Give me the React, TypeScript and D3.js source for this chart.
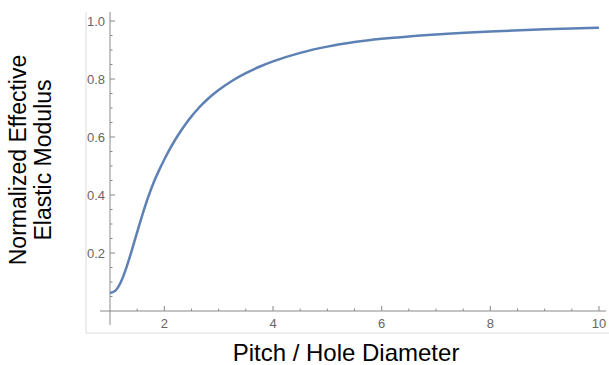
import React, { useRef, useEffect } from "react";
import * as d3 from "d3";

// values
const pitchRatio = [1.0, 1.1, 1.2, 1.3, 1.4, 1.5, 1.6, 1.7, 1.8, 1.9, 2.0, 2.1, 2.2, 2.3, 2.4, 2.5, 2.6, 2.7, 2.8, 2.9, 3.0, 3.25, 3.5, 3.75, 4.0, 4.5, 5.0, 5.5, 6.0, 6.5, 7.0, 8.0, 9.0, 10.0];
const modulus = [0.062, 0.0705, 0.1, 0.149, 0.2085, 0.272, 0.334, 0.3915, 0.4415, 0.484, 0.5225, 0.558, 0.5905, 0.62, 0.6468, 0.671, 0.693, 0.713, 0.7311, 0.7475, 0.7622, 0.7941, 0.8203, 0.8422, 0.8607, 0.8902, 0.9117, 0.9272, 0.9385, 0.9469, 0.9535, 0.9637, 0.9712, 0.977];
const xTicks = [2, 4, 6, 8, 10];
const yTicks = [0.2, 0.4, 0.6, 0.8, 1.0];

const width = 609;
const height = 365;

const App = () => {
    const svgRef = useRef(null);

    useEffect(() => {
        const svg = d3.select(svgRef.current);
        svg.selectAll("*").remove();

        const xScale = d3.scaleLinear().domain([1, 10]).range([110, 599]);
        const yScale = d3.scaleLinear().domain([0, 1]).range([311, 21]);

        // light frame of the image
        svg.append("path")
            .attr("d", `M86,12 L86,333 L609,333`)
            .attr("fill", "none")
            .attr("stroke", "#dcdcdc")
            .attr("stroke-width", 1);

        const axisColor = "#8a8a8a";
        const labelColor = "#666";

        // x axis line
        svg.append("line")
            .attr("x1", xScale(1) - 10).attr("x2", 606)
            .attr("y1", yScale(0)).attr("y2", yScale(0))
            .attr("stroke", axisColor);
        // y axis line
        svg.append("line")
            .attr("x1", xScale(1)).attr("x2", xScale(1))
            .attr("y1", 12).attr("y2", yScale(0) + 14)
            .attr("stroke", axisColor);

        // x ticks
        const xMinor = d3.range(1.5, 10.01, 0.5).filter(t => !xTicks.includes(t));
        svg.append("g").selectAll("line")
            .data(xMinor)
            .join("line")
            .attr("x1", d => xScale(d)).attr("x2", d => xScale(d))
            .attr("y1", yScale(0)).attr("y2", yScale(0) - 2.5)
            .attr("stroke", axisColor);
        svg.append("g").selectAll("line")
            .data(xTicks)
            .join("line")
            .attr("x1", d => xScale(d)).attr("x2", d => xScale(d))
            .attr("y1", yScale(0)).attr("y2", yScale(0) - 5)
            .attr("stroke", axisColor);
        svg.append("g").selectAll("text")
            .data(xTicks)
            .join("text")
            .attr("x", d => xScale(d))
            .attr("y", 328)
            .attr("text-anchor", "middle")
            .attr("font-family", "Liberation Sans, Arial, sans-serif")
            .attr("font-size", 13)
            .attr("fill", labelColor)
            .text(d => d);

        // y ticks
        const yMinor = d3.range(0.05, 1.001, 0.05).filter(t => !yTicks.some(m => Math.abs(m - t) < 1e-6));
        svg.append("g").selectAll("line")
            .data(yMinor)
            .join("line")
            .attr("x1", xScale(1)).attr("x2", xScale(1) + 2.5)
            .attr("y1", d => yScale(d)).attr("y2", d => yScale(d))
            .attr("stroke", axisColor);
        svg.append("g").selectAll("line")
            .data(yTicks)
            .join("line")
            .attr("x1", xScale(1)).attr("x2", xScale(1) + 5)
            .attr("y1", d => yScale(d)).attr("y2", d => yScale(d))
            .attr("stroke", axisColor);
        svg.append("g").selectAll("text")
            .data(yTicks)
            .join("text")
            .attr("x", 105)
            .attr("y", d => yScale(d))
            .attr("dy", "0.35em")
            .attr("text-anchor", "end")
            .attr("font-family", "Liberation Sans, Arial, sans-serif")
            .attr("font-size", 13)
            .attr("fill", labelColor)
            .text(d => d3.format(".1f")(d));

        // curve
        const data = pitchRatio.map((p, i) => ({ x: p, y: modulus[i] }));
        const line = d3.line()
            .x(d => xScale(d.x))
            .y(d => yScale(d.y))
            .curve(d3.curveMonotoneX);
        svg.append("path")
            .datum(data)
            .attr("d", line)
            .attr("fill", "none")
            .attr("stroke", "#5e81b5")
            .attr("stroke-width", 2.5);

        // axis titles
        svg.append("text")
            .attr("x", 346)
            .attr("y", 361)
            .attr("text-anchor", "middle")
            .attr("font-family", "Liberation Sans, Arial, sans-serif")
            .attr("font-size", 24)
            .attr("fill", "#000")
            .text("Pitch / Hole Diameter");

        const yTitle = svg.append("text")
            .attr("transform", "translate(26,160) rotate(-90)")
            .attr("text-anchor", "middle")
            .attr("font-family", "Liberation Sans, Arial, sans-serif")
            .attr("font-size", 23)
            .attr("fill", "#000");
        yTitle.append("tspan").attr("x", 0).attr("y", 0).text("Normalized Effective");
        yTitle.append("tspan").attr("x", 0).attr("y", 25).text("Elastic Modulus");
    }, []);

    return (
        <div>
            <svg ref={svgRef} width={width} height={height}
                style={{ position: "absolute", left: 0, top: 0, background: "#fff" }}>
            </svg>
        </div>
    );
};

export default App;
